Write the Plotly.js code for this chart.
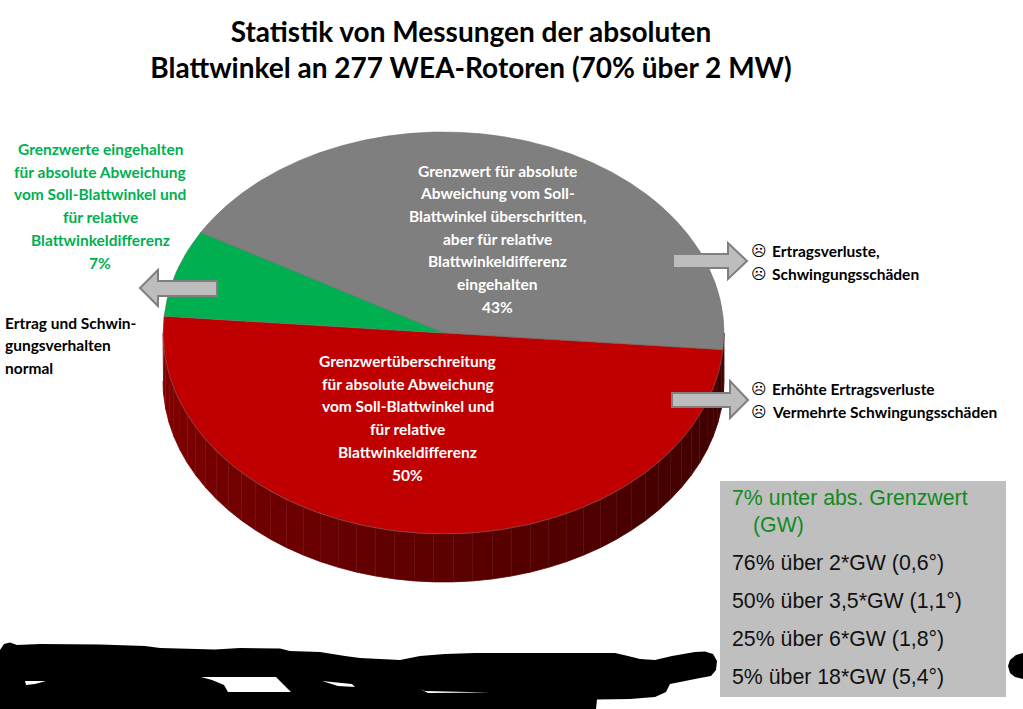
<!DOCTYPE html>
<html lang="de">
<head>
<meta charset="utf-8">
<title>Statistik Blattwinkel</title>
<script src="https://cdn.plot.ly/plotly-3.0.1.min.js"></script>
<style>html,body{margin:0;padding:0;background:#fff;overflow:hidden}#chart{width:1023px;height:709px}</style>
</head>
<body>
<div id="chart"></div>
<script>
// ---- data ----
const sliceNames = ["Grenzwert überschritten, relative Differenz eingehalten", "Grenzwertüberschreitung", "Grenzwerte eingehalten"];
const sliceShares = [43, 50, 7];
const sliceColors = ["#7F7F7F", "#C00000", "#00B050"];
const titleLines = ["Statistik von Messungen der absoluten", "Blattwinkel an 277 WEA-Rotoren (70% über 2 MW)"];
const grayLabel = ["Grenzwert für absolute", "Abweichung vom Soll-", "Blattwinkel überschritten,", "aber für relative", "Blattwinkeldifferenz", "eingehalten", "43%"];
const redLabel = ["Grenzwertüberschreitung", "für absolute Abweichung", "vom Soll-Blattwinkel und", "für relative", "Blattwinkeldifferenz", "50%"];
const greenLabel = ["Grenzwerte eingehalten", "für absolute Abweichung", "vom Soll-Blattwinkel und", "für relative", "Blattwinkeldifferenz", "7%"];
const normalLabel = ["Ertrag und Schwin-", "gungsverhalten", "normal"];
const effectsUpper = ["Ertragsverluste,", "Schwingungsschäden"];
const effectsLower = ["Erhöhte Ertragsverluste", "Vermehrte Schwingungsschäden"];
const boxLines = ["7% unter abs. Grenzwert", "(GW)", "76% über 2*GW (0,6°)", "50% über 3,5*GW (1,1°)", "25% über 6*GW (1,8°)", "5% über 18*GW (5,4°)"];

// ---- layout of the drawing ----
const W = 1023, H = 709;
const cx = 443.5, cy = 333, rx = 280.5, ry = 201, depth = 48;
const bold = "Lato, 'DejaVu Sans', sans-serif";
const RAD = Math.PI / 180;

// side wall of the disc: lower half, shaded left to right
const rimStops = [[0, [132, 0, 0]], [0.25, [112, 0, 0]], [0.5, [92, 0, 0]], [0.75, [72, 0, 0]], [1, [62, 0, 0]]];
function rimColor(t) {
  for (let i = 1; i < rimStops.length; i++) {
    if (t <= rimStops[i][0]) {
      const a = rimStops[i - 1], b = rimStops[i], f = (t - a[0]) / (b[0] - a[0]);
      return "rgb(" + a[1].map((v, k) => Math.round(v + (b[1][k] - v) * f)).join(",") + ")";
    }
  }
  return "rgb(62,0,0)";
}
const traces = [];
const bands = 45;
for (let b = bands - 1; b >= 0; b--) {
  // screen angle: 0 = right, 90 = bottom, 180 = left
  const a0 = 180 - 180 * b / bands, a1 = 180 - 180 * (b + 1) / bands;
  const xs = [], ys = [];
  for (let k = 0; k <= 4; k++) {
    const a = (a0 + (a1 - a0) * k / 4) * RAD;
    xs.push(cx + rx * Math.cos(a)); ys.push(cy + ry * Math.sin(a));
  }
  for (let k = 4; k >= 0; k--) {
    const a = (a0 + (a1 - a0) * k / 4) * RAD;
    xs.push(cx + rx * Math.cos(a)); ys.push(cy + depth + ry * Math.sin(a));
  }
  const c = rimColor((b + 0.5) / bands);
  traces.push({type: "scatter", mode: "lines", x: xs, y: ys, fill: "toself", fillcolor: c,
    line: {color: c, width: 0.8}, hoverinfo: "skip", showlegend: false});
}
// top face of the disc
traces.push({
  type: "pie", labels: sliceNames, values: sliceShares, sort: false, direction: "clockwise", rotation: -60,
  marker: {colors: sliceColors, line: {color: "#6b6b6b", width: 0.6}},
  textinfo: "none", hoverinfo: "skip", showlegend: false,
  domain: {x: [(cx - rx) / W, (cx + rx) / W], y: [(H - cy - rx) / H, (H - cy + rx) / H]}
});

// ---- texts ----
const annotations = [];
function put(text, x, y, size, color, anchor, family, weight) {
  annotations.push({text: text, x: x, y: y, xref: "x", yref: "y", xanchor: anchor, yanchor: "middle",
    showarrow: false, align: anchor, borderpad: 0,
    font: {size: size, color: color, family: family || bold, weight: weight === undefined ? 700 : weight}});
}
function block(lines, x, y0, step, size, color, anchor) {
  lines.forEach((t, i) => put(t, x, y0 + i * step, size, color, anchor));
}
block(grayLabel, 497, 170.5, 22.7, 15.5, "#FFFFFF", "center");
block(redLabel, 407.5, 361, 22.7, 15.5, "#FFFFFF", "center");
block(greenLabel, 100, 149, 22.7, 15.5, "#00B050", "center");
block(normalLabel, 4, 322.5, 22.7, 15.5, "#000000", "left");
block(effectsUpper, 771, 250.5, 23, 15.5, "#000000", "left");
block(effectsLower, 771, 388.5, 23, 15.5, "#000000", "left");
[250.5, 273.5, 388.5, 411.5].forEach(y => put("☹", 759, y, 15, "#000000", "center", "'DejaVu Sans'", 400));
const arial = "'Liberation Sans', Arial, sans-serif";
const boxY = [498, 525, 563, 601, 639, 677];
boxLines.forEach((t, i) => put(t, i === 1 ? 752 : 731, boxY[i], 21.3, i < 2 ? "#128A1E" : "#111111", "left", arial, 400));

// ---- shapes: redaction scribble, arrows, info box ----
function poly(points) { return "M" + points.map(p => p.join(",")).join("L") + "Z"; }
const blob = [[0,650],[4,644],[10,642.5],[17,645],[40,644],[100,644.5],[145,646],[160,648],[215,649.5],[240,648],[280,648.5],[290,651],[320,652],[345,656],[360,658],[400,660],[420,656],[445,654],[475,653],[615,653],[628,656],[640,659],[655,660],[672,656],[695,652],[705,651.5],[713,654],[717,661],[716,670],[711,676],[700,678],[670,684],[666,692],[655,697],[630,699],[597,699.5],[596,709],[0,709]];
const blobRight = [[1023,653],[1016,655],[1010,660],[1008,666],[1010,673],[1015,677],[1023,679]];
const holes = [
  [[25,681],[46,681],[35,684],[26,685]],
  [[201,677],[276,677],[291,692],[228,692],[224,685],[212,680]],
  [[322,681],[352,684],[355,687],[338,686]],
  [[420,689],[425,691],[490,692.5],[428,693]]
];
const arrows = [
  [[673,254],[728,254],[728,243],[747,261],[728,279],[728,268],[673,268]],
  [[672,393],[730,393],[730,381],[748,400],[730,418],[730,407],[672,407]],
  [[217,281],[158,281],[158,270],[140,288],[158,306],[158,296],[217,296]]
];
const shapes = [];
const solid = (path, fill) => ({type: "path", xref: "x", yref: "y", layer: "above", path: path, fillcolor: fill, line: {width: 0}});
shapes.push(solid(poly(blob), "#000000"));
shapes.push(solid(poly(blobRight), "#000000"));
holes.forEach(h => shapes.push(solid(poly(h), "#FFFFFF")));
arrows.forEach(a => shapes.push({type: "path", xref: "x", yref: "y", layer: "above", path: poly(a),
  fillcolor: "#BDBDBD", line: {color: "#7F7F7F", width: 2}}));
shapes.push({type: "rect", xref: "x", yref: "y", layer: "above", x0: 720, x1: 1006, y0: 481, y1: 697,
  fillcolor: "#BFBFBF", line: {width: 0}});

const layout = {
  width: W, height: H, margin: {l: 0, r: 0, t: 0, b: 0}, paper_bgcolor: "#FFFFFF", plot_bgcolor: "#FFFFFF",
  showlegend: false, hovermode: false,
  title: {text: titleLines.join("<br>"), x: 471 / W, xanchor: "center", xref: "paper", y: 1 - 42 / H, yref: "paper", yanchor: "middle",
    font: {size: 28, color: "#000000", family: bold, weight: 700}},
  xaxis: {visible: false, range: [0, W], fixedrange: true},
  yaxis: {visible: false, range: [H, 0], fixedrange: true},
  shapes: shapes, annotations: annotations
};

Plotly.newPlot("chart", traces, layout, {staticPlot: true, displayModeBar: false}).then(gd => {
  // perspective: flatten the round pie into the ellipse of the tilted disc
  const pie = gd.querySelector(".pielayer");
  pie.setAttribute("transform", "translate(0," + cy + ") scale(1," + (ry / rx) + ") translate(0," + (-cy) + ")");
});
</script>
</body>
</html>
